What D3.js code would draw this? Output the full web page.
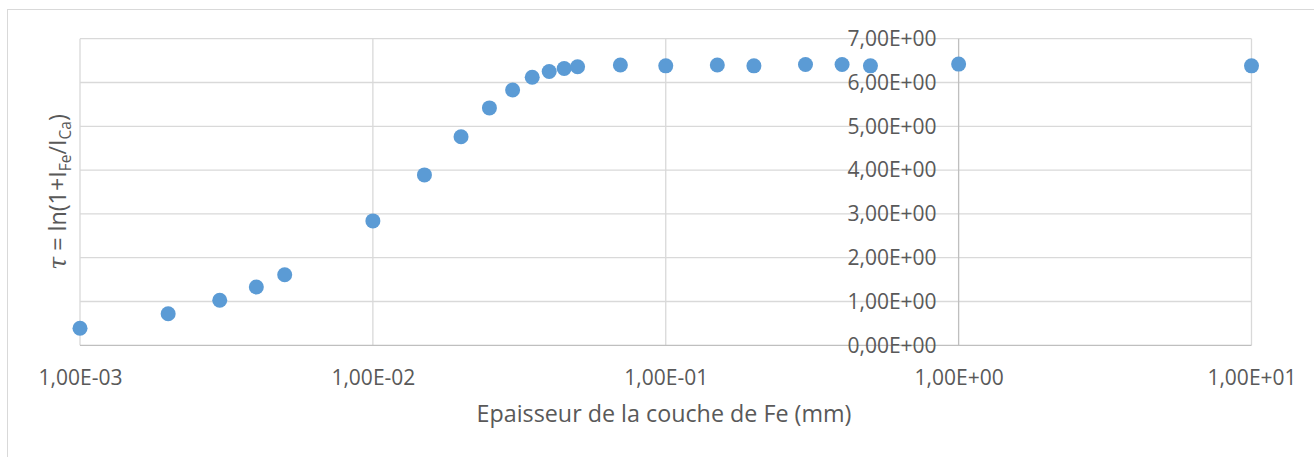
<!DOCTYPE html>
<html>
<head>
<meta charset="utf-8">
<script src="https://cdn.jsdelivr.net/npm/d3@7"></script>
<style>
  html, body { margin: 0; padding: 0; background: #fff; }
  svg { display: block; }
  text { font-family: "Open Sans", "Liberation Sans", sans-serif; fill: #595959; }
</style>
</head>
<body>
<svg id="chart" width="1314" height="457"></svg>
<script>
// Data: thickness of Fe layer (mm) and tau = ln(1 + I_Fe / I_Ca)
const thickness = [0.001, 0.002, 0.003, 0.004, 0.005, 0.01, 0.015, 0.02, 0.025, 0.03, 0.035, 0.04, 0.045, 0.05, 0.07, 0.1, 0.15, 0.2, 0.3, 0.4, 0.5, 1, 10];
const tau       = [0.39, 0.72, 1.03, 1.33, 1.61, 2.84, 3.89, 4.76, 5.42, 5.83, 6.12, 6.25, 6.32, 6.36, 6.40, 6.38, 6.40, 6.38, 6.41, 6.41, 6.38, 6.42, 6.38];
const xTicks = [0.001, 0.01, 0.1, 1, 10];
const xTickLabels = ["1,00E-03", "1,00E-02", "1,00E-01", "1,00E+00", "1,00E+01"];
const yTicks = [0, 1, 2, 3, 4, 5, 6, 7];
const yTickLabels = ["0,00E+00", "1,00E+00", "2,00E+00", "3,00E+00", "4,00E+00", "5,00E+00", "6,00E+00", "7,00E+00"];
const xTitle = "Epaisseur de la couche de Fe (mm)";

const svg = d3.select("#chart");

// chart area border
svg.append("rect")
  .attr("x", 7.5).attr("y", 9.5).attr("width", 1320).attr("height", 470)
  .attr("fill", "#fff").attr("stroke", "#d9d9d9").attr("stroke-width", 1);

const x = d3.scaleLog().domain([0.001, 10]).range([80, 1251.5]);
const y = d3.scaleLinear().domain([0, 7]).range([345.3, 38.7]);

// horizontal gridlines
svg.append("g").selectAll("line").data(yTicks.filter(d => d > 0)).join("line")
  .attr("x1", x(0.001)).attr("x2", x(10))
  .attr("y1", d => y(d)).attr("y2", d => y(d))
  .attr("stroke", "#d9d9d9").attr("stroke-width", 1.3);

// vertical gridlines
svg.append("g").selectAll("line").data(xTicks.filter(d => d !== 1)).join("line")
  .attr("x1", d => x(d)).attr("x2", d => x(d))
  .attr("y1", y(7)).attr("y2", y(0))
  .attr("stroke", "#d9d9d9").attr("stroke-width", 1.3);

// axis lines
svg.append("line")
  .attr("x1", x(0.001)).attr("x2", x(10)).attr("y1", y(0)).attr("y2", y(0))
  .attr("stroke", "#bfbfbf").attr("stroke-width", 1.3);
svg.append("line")
  .attr("x1", x(1)).attr("x2", x(1)).attr("y1", y(7)).attr("y2", y(0))
  .attr("stroke", "#bfbfbf").attr("stroke-width", 1.3);

// x axis labels
const xAxis = d3.axisBottom(x).tickValues(xTicks).tickSize(0).tickPadding(25)
  .tickFormat((d, i) => xTickLabels[i]);
const gx = svg.append("g").attr("transform", `translate(0,${y(0)})`).call(xAxis);
gx.select(".domain").remove();
gx.selectAll("text").attr("font-size", 21).attr("fill", "#595959")
  .style("font-family", '"Open Sans", sans-serif');

// y axis labels (axis crosses at x = 1)
const yAxis = d3.axisLeft(y).tickValues(yTicks).tickSize(0).tickPadding(22)
  .tickFormat((d, i) => yTickLabels[i]);
const gy = svg.append("g").attr("transform", `translate(${x(1)},0)`).call(yAxis);
gy.select(".domain").remove();
gy.selectAll("text").attr("font-size", 21).attr("fill", "#595959")
  .style("font-family", '"Open Sans", sans-serif');

// points
svg.append("g").selectAll("circle").data(thickness.map((t, i) => [t, tau[i]])).join("circle")
  .attr("cx", d => x(d[0])).attr("cy", d => y(d[1])).attr("r", 7.5)
  .attr("fill", "#5b9bd5");

// x title
svg.append("text")
  .attr("x", 664).attr("y", 422)
  .attr("text-anchor", "middle").attr("font-size", 23.3)
  .text(xTitle);

// y title
const yt = svg.append("text")
  .attr("transform", "translate(66,192) rotate(-90)")
  .attr("text-anchor", "middle").attr("font-size", 23.3);
yt.append("tspan").style("font-family", '"DejaVu Serif", serif').attr("font-style", "italic").text("τ");
yt.append("tspan").text(" = ln(1+I");
yt.append("tspan").attr("font-size", 15.5).attr("dy", 5).text("Fe");
yt.append("tspan").attr("dy", -5).text("/I");
yt.append("tspan").attr("font-size", 15.5).attr("dy", 5).text("Ca");
yt.append("tspan").attr("dy", -5).text(")");
</script>
</body>
</html>
